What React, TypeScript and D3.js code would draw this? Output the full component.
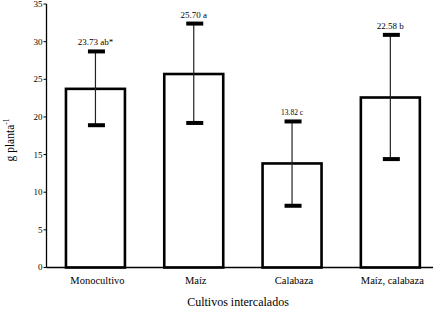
import React from "react";
import * as d3 from "d3";

const categories = ["Monocultivo", "Maíz", "Calabaza", "Maíz, calabaza"];
const means = [23.73, 25.7, 13.82, 22.58];
const upper = [28.7, 32.4, 19.4, 30.9];
const lower = [18.9, 19.2, 8.2, 14.4];
const barLabels = ["23.73 ab*", "25.70 a", "13.82 c", "22.58 b"];
const labelSizes = [9, 9, 7.5, 9];
const yTicks = [0, 5, 10, 15, 20, 25, 30, 35];

const W = 433;
const H = 310;
const FONT = "Liberation Serif, DejaVu Serif, serif";

export default function App() {
  const x = d3.scaleBand<string>().domain(categories).range([46.3, 439.5]).paddingInner(0.4).paddingOuter(0.2);
  const y = d3.scaleLinear().domain([0, 35]).range([267.5, 4]);
  const axisX = 46.5;
  const bw = x.bandwidth();
  const capW = 17;
  return (
    <svg width={W} height={H} style={{ position: "absolute", left: 0, top: 0, background: "#fff", fontFamily: FONT }}>
      <rect x={0} y={0} width={W} height={H} fill="#fff" />
      {categories.map((c, i) => (
        <rect key={c} x={x(c)!} y={y(means[i])} width={bw} height={y(0) - y(means[i])} fill="#fff" stroke="#000" strokeWidth={2.6} />
      ))}
      {categories.map((c, i) => {
        const cx = x(c)! + bw / 2;
        return (
          <g key={"e" + c}>
            <line x1={cx} x2={cx} y1={y(upper[i])} y2={y(lower[i])} stroke="#222" strokeWidth={1.2} />
            <rect x={cx - capW / 2 + 1} y={y(upper[i]) - 2} width={capW} height={4} fill="#000" />
            <rect x={cx - capW / 2 + 1} y={y(lower[i]) - 2} width={capW} height={4} fill="#000" />
            <text x={cx} y={y(upper[i]) - 6} textAnchor="middle" fontSize={labelSizes[i]} fill="#000" style={{ fontFamily: FONT }}>
              {barLabels[i]}
            </text>
          </g>
        );
      })}
      <line x1={axisX} x2={axisX} y1={y(35)} y2={y(0)} stroke="#000" strokeWidth={1.3} />
      {yTicks.map((t) => (
        <g key={t}>
          <line x1={axisX - 3} x2={axisX} y1={y(t)} y2={y(t)} stroke="#000" strokeWidth={1} />
          <text x={axisX - 4} y={y(t)} dy="0.33em" textAnchor="end" fontSize={9} fill="#000" style={{ fontFamily: FONT }}>
            {t}
          </text>
        </g>
      ))}
      <line x1={axisX} x2={W} y1={y(0)} y2={y(0)} stroke="#000" strokeWidth={1.3} />
      {categories.map((c) => (
        <text key={"l" + c} x={x(c)! + bw / 2 + 2} y={284} textAnchor="middle" fontSize={10.5} fill="#000" style={{ fontFamily: FONT }}>
          {c}
        </text>
      ))}
      <text x={238} y={306} textAnchor="middle" fontSize={12} fill="#000" style={{ fontFamily: FONT }}>
        Cultivos intercalados
      </text>
      <text transform="translate(14,140) rotate(-90)" textAnchor="middle" fontSize={11.5} fill="#000" style={{ fontFamily: FONT }}>
        g planta<tspan fontSize={7.5} dy={-5}>-1</tspan>
      </text>
    </svg>
  );
}
